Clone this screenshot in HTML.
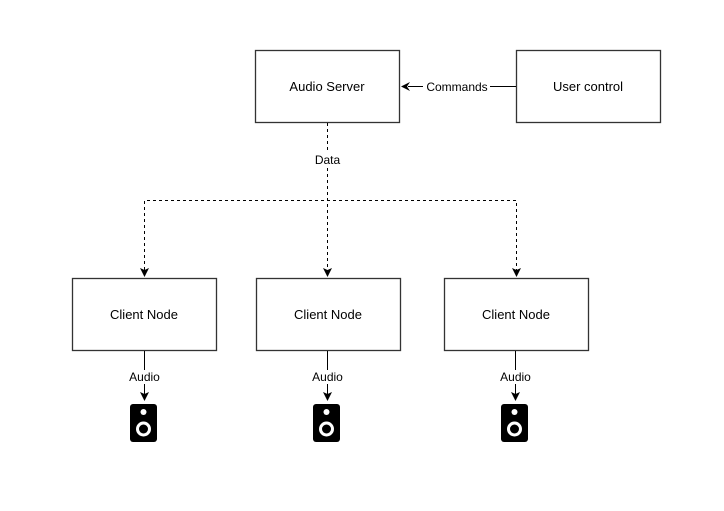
<!DOCTYPE html>
<html><head><style>body{margin:0;background:#fff}</style></head><body>
<svg width="724" height="506" xmlns="http://www.w3.org/2000/svg" font-family="Liberation Sans, Arial, sans-serif" font-size="13">
<rect width="724" height="506" fill="#fff"/>
<g fill="#fff" stroke="#333" stroke-width="1.3">
<rect x="255.5" y="50.5" width="144" height="72"/>
<rect x="516.5" y="50.5" width="144" height="72"/>
<rect x="72.5" y="278.5" width="144" height="72"/>
<rect x="256.5" y="278.5" width="144" height="72"/>
<rect x="444.5" y="278.5" width="144" height="72"/>
</g>
<g text-anchor="middle" fill="#000">
<text x="327" y="91">Audio Server</text>
<text x="588" y="91">User control</text>
<text x="144" y="319">Client Node</text>
<text x="328" y="319">Client Node</text>
<text x="516" y="319">Client Node</text>
</g>
<line x1="516" y1="86.5" x2="490" y2="86.5" stroke="#000"/>
<line x1="423" y1="86.5" x2="408" y2="86.5" stroke="#000"/>
<path d="M401 86.5 L410 82 L407 86.5 L410 91 Z" fill="#000"/>
<text x="457" y="91" text-anchor="middle" font-size="12">Commands</text>
<g stroke="#000" stroke-dasharray="3,3" fill="none">
<path d="M327.5 123 V150"/>
<path d="M327.5 168 V270"/>
<path d="M144.5 270 V200.5 H516.5 V270"/>
</g>
<text x="327.5" y="164" text-anchor="middle" font-size="12">Data</text>
<g fill="#000">
<path d="M140 268 L144.5 277 L149 268 L144.5 270 Z"/>
<path d="M323 268 L327.5 277 L332 268 L327.5 270 Z"/>
<path d="M512 268 L516.5 277 L521 268 L516.5 270 Z"/>
</g>
<g id="a">
<line x1="144.5" y1="351" x2="144.5" y2="370" stroke="#000"/>
<line x1="144.5" y1="384" x2="144.5" y2="394" stroke="#000"/>
<path d="M140 392 L144.5 401 L149 392 L144.5 394 Z" fill="#000"/>
<text x="144.5" y="381" text-anchor="middle" font-size="12">Audio</text>
<rect x="130" y="404" width="27" height="38" rx="3" fill="#000"/>
<circle cx="143.5" cy="412" r="3" fill="#fff"/>
<circle cx="143.5" cy="429" r="7.5" fill="#fff"/>
<circle cx="143.5" cy="429" r="4.5" fill="#000"/>
</g>
<use href="#a" x="183"/>
<use href="#a" x="371"/>
</svg>
</body></html>
